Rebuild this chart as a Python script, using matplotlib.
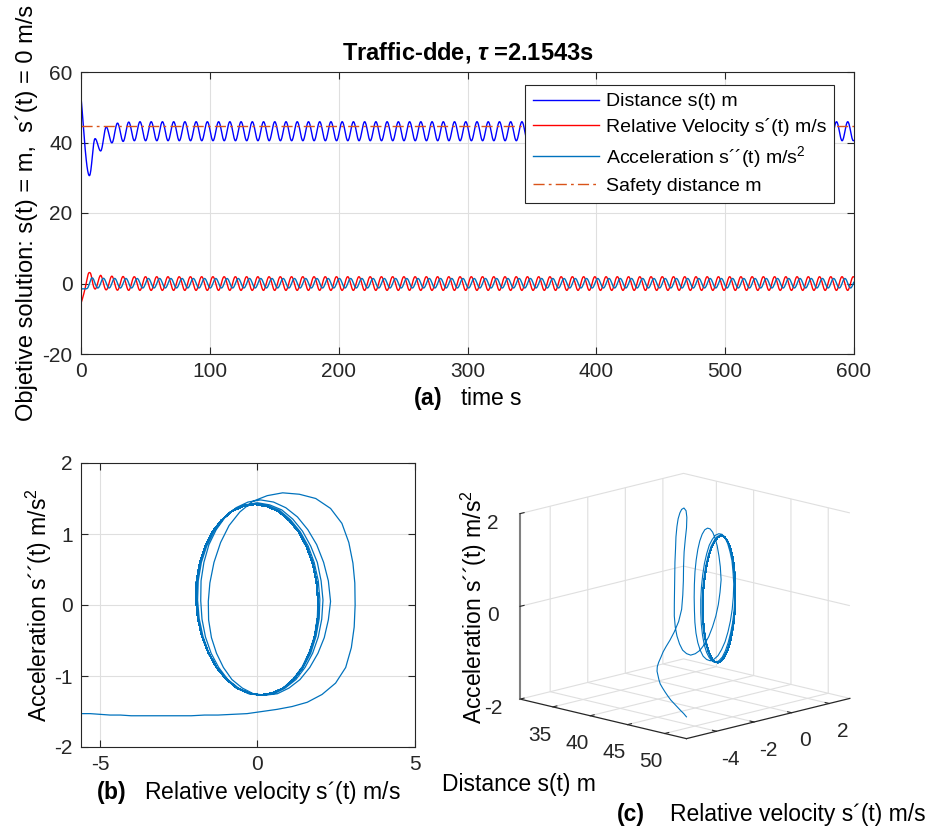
import matplotlib
matplotlib.use("Agg")
import matplotlib.pyplot as plt
import numpy as np

plt.rcParams["font.family"] = ["Liberation Sans", "DejaVu Sans"]
plt.rcParams["mathtext.fontset"] = "custom"
plt.rcParams["mathtext.rm"] = "Liberation Sans"
plt.rcParams["mathtext.it"] = "Liberation Sans:italic"
plt.rcParams["mathtext.bf"] = "Liberation Sans:bold"
plt.rcParams["mathtext.bfit"] = "Liberation Sans:bold:italic"
plt.rcParams["axes.unicode_minus"] = False

# ------------------------------------------------------------
# trajectory, one sample every 1/32 of the period
dt = 0.2725
t_end = 600
n_cycles = 65
safety_dist = 44.7

# start of the run (t = 0 ... 41 s): fall, overshoot and the converging loops
dist_start = [52.9, 51.8, 50.6, 49.4, 48.1, 46.8, 45.5, 44.2, 42.9, 41.6, 40.4, 39.2,
              38.0, 36.9, 35.9, 35.0, 34.1, 33.3, 32.6, 32.0, 31.5, 31.1, 30.8, 30.65, 30.6,
              30.7, 31.0, 31.5, 32.1, 32.9, 33.8, 34.8, 35.9, 36.9, 37.9, 38.8, 39.6, 40.2,
              40.7, 41.0, 41.1,
              41.07, 40.97, 40.80, 40.59, 40.32, 40.02, 39.69, 39.35, 39.01, 38.68, 38.38,
              38.11, 37.90, 37.73, 37.63, 37.60,
              37.67, 37.86, 38.18, 38.60, 39.11, 39.70, 40.34, 41.00, 41.66, 42.30, 42.89,
              43.40, 43.82, 44.14, 44.34, 44.40,
              44.36, 44.23, 44.02, 43.74, 43.40, 43.01, 42.59, 42.15, 41.71, 41.29, 40.90,
              40.56, 40.28, 40.07, 39.94, 39.90,
              39.95, 40.11, 40.37, 40.72, 41.14, 41.63, 42.15, 42.70, 43.25, 43.77, 44.26,
              44.68, 45.03, 45.29, 45.45, 45.50,
              45.45, 45.30, 45.06, 44.74, 44.35, 43.90, 43.41, 42.90, 42.39, 41.90, 41.45,
              41.06, 40.74, 40.50, 40.35, 40.30,
              40.35, 40.51, 40.77, 41.11, 41.52, 42.00, 42.51, 43.05, 43.59, 44.10, 44.58,
              44.99, 45.34, 45.59, 45.75, 45.80,
              45.75, 45.60, 45.35, 45.02, 44.62, 44.17, 43.67, 43.15, 42.63, 42.14, 41.68,
              41.28, 40.95, 40.70, 40.55]
vel_start = [-5.60, -5.31, -5.00, -4.68, -4.35, -4.01, -3.65, -3.28, -2.90, -2.51, -2.10,
             -1.68, -1.25, -0.80, -0.33, 0.15, 0.62, 1.10, 1.58, 2.05, 2.48, 2.80, 2.98,
             3.07, 3.10,
             3.09, 3.03, 2.90, 2.68, 2.32, 1.85, 1.33, 0.80, 0.31, -0.15, -0.56, -0.90,
             -1.17, -1.38, -1.51, -1.56,
             -1.55, -1.46, -1.30, -1.08, -0.81, -0.48, -0.13, 0.25, 0.63, 1.00, 1.35,
             1.66, 1.92, 2.12, 2.25, 2.32,
             2.25, 2.10, 1.88, 1.60, 1.27, 0.90, 0.51, 0.10, -0.30, -0.68, -1.02, -1.31,
             -1.54, -1.70, -1.79, -1.80,
             -1.76, -1.65, -1.47, -1.23, -0.94, -0.60, -0.24, 0.14, 0.52, 0.88, 1.22,
             1.51, 1.75, 1.93, 2.04, 2.08,
             2.02, 1.90, 1.69, 1.43, 1.12, 0.77, 0.39, 0.00, -0.39, -0.76, -1.09, -1.38,
             -1.61, -1.78, -1.88, -1.90,
             -1.85, -1.73, -1.54, -1.29, -0.99, -0.65, -0.28, 0.10, 0.48, 0.84, 1.17,
             1.45, 1.69, 1.86, 1.96, 1.98,
             1.93, 1.80, 1.61, 1.36, 1.05, 0.71, 0.33, -0.05, -0.43, -0.80, -1.13, -1.42,
             -1.65, -1.82, -1.92, -1.94,
             -1.89, -1.76, -1.56, -1.31, -1.01, -0.67, -0.30, 0.08, 0.45, 0.81, 1.14,
             1.42, 1.64, 1.81, 1.90]
acc_start = [-1.53, -1.53, -1.54, -1.55, -1.55, -1.56, -1.56, -1.56, -1.56, -1.56, -1.56,
             -1.55, -1.55, -1.54, -1.53, -1.50, -1.47, -1.43, -1.37, -1.26, -1.10, -0.88,
             -0.60, -0.31, 0.00,
             0.31, 0.59, 0.88, 1.15, 1.36, 1.50, 1.56, 1.58, 1.54, 1.46, 1.31, 1.12, 0.88,
             0.60, 0.31, 0.05,
             -0.21, -0.46, -0.68, -0.88, -1.05, -1.17, -1.25, -1.27, -1.25, -1.17, -1.05,
             -0.88, -0.68, -0.46, -0.21, 0.05,
             0.34, 0.60, 0.85, 1.06, 1.24, 1.37, 1.45, 1.48, 1.45, 1.37, 1.24, 1.06, 0.85,
             0.60, 0.34, 0.06,
             -0.20, -0.45, -0.68, -0.88, -1.05, -1.17, -1.25, -1.27, -1.25, -1.17, -1.05,
             -0.88, -0.68, -0.45, -0.20, 0.07,
             0.34, 0.60, 0.83, 1.04, 1.21, 1.34, 1.41, 1.44, 1.41, 1.34, 1.21, 1.04, 0.83,
             0.60, 0.34, 0.07,
             -0.19, -0.44, -0.68, -0.88, -1.04, -1.17, -1.25, -1.27, -1.25, -1.17, -1.04,
             -0.88, -0.68, -0.44, -0.19, 0.08,
             0.34, 0.60, 0.83, 1.03, 1.20, 1.33, 1.40, 1.43, 1.40, 1.33, 1.20, 1.03, 0.83,
             0.60, 0.34, 0.08,
             -0.18, -0.44, -0.67, -0.87, -1.04, -1.17, -1.24, -1.27, -1.24, -1.17, -1.04,
             -0.87, -0.67, -0.44, -0.18]

# one steady oscillation (the limit cycle), repeated up to 600 s as in panel (a)
dist_cycle = [40.50, 40.55, 40.71, 40.96, 41.29, 41.70, 42.17, 42.67, 43.20, 43.73, 44.23,
              44.70, 45.11, 45.44, 45.69, 45.85, 45.90, 45.85, 45.69, 45.44, 45.11, 44.70,
              44.23, 43.73, 43.20, 42.67, 42.17, 41.70, 41.29, 40.96, 40.71, 40.55]
vel_cycle = [1.92, 1.87, 1.75, 1.56, 1.31, 1.01, 0.67, 0.30, -0.08, -0.46, -0.82, -1.15,
             -1.43, -1.66, -1.83, -1.93, -1.95, -1.89, -1.76, -1.56, -1.30, -1.00, -0.65,
             -0.28, 0.10, 0.48, 0.83, 1.16, 1.43, 1.66, 1.82, 1.91]
acc_cycle = [0.08, 0.34, 0.59, 0.82, 1.03, 1.19, 1.32, 1.39, 1.42, 1.39, 1.32, 1.19, 1.03,
             0.82, 0.59, 0.34, 0.08, -0.19, -0.44, -0.67, -0.88, -1.04, -1.17, -1.24,
             -1.27, -1.24, -1.17, -1.04, -0.88, -0.67, -0.44, -0.19]

s = np.concatenate([dist_start, np.tile(dist_cycle, n_cycles)])
v = np.concatenate([vel_start, np.tile(vel_cycle, n_cycles)])
a = np.concatenate([acc_start, np.tile(acc_cycle, n_cycles)])
t = np.arange(len(s)) * dt
keep = t <= t_end
t, s, v, a = t[keep], s[keep], v[keep], a[keep]

C_DARK = "#262626"
C_GRID = "#dfdfdf"
C_ACC = "#0072bd"
FS = 15
FL = 16.5
W, H = 926, 834


def box(x0, y0, x1, y1):
    return [x0 / W, 1 - y1 / H, (x1 - x0) / W, (y1 - y0) / H]


def style_2d(ax):
    ax.grid(True, color=C_GRID, lw=0.8)
    ax.set_axisbelow(True)
    ax.tick_params(direction="in", top=True, right=True, length=5, width=0.8,
                   labelsize=FS, colors=C_DARK, pad=6)
    for sp in ax.spines.values():
        sp.set_color(C_DARK)
        sp.set_linewidth(0.8)


fig = plt.figure(figsize=(9.26, 8.34), dpi=100)

# ------------------------------------------------------------ (a)
ax1 = fig.add_axes(box(81, 72, 854, 354))
ax1.plot(t, s, color="#0000ff", lw=1.0, label="Distance s(t) m")
ax1.plot(t, v, color="#ff0000", lw=1.0, label="Relative Velocity s\u00b4(t) m/s")
ax1.plot(t, a, color=C_ACC, lw=1.0, label="Acceleration s\u00b4\u00b4(t) m/s$^2$")
ax1.axhline(safety_dist, color="#d95319", lw=1.0, ls=(0, (8, 3, 2, 3)),
            label="Safety distance m")
ax1.set_xlim(0, 600)
ax1.set_ylim(-20, 60)
ax1.set_xticks(np.arange(0, 601, 100))
ax1.set_yticks(np.arange(-20, 61, 20))
style_2d(ax1)
ax1.set_title("Traffic-dde, $\\mathbfit{\\tau}$ =2.1543s", fontsize=17,
              fontweight="bold", color="black", pad=9)
ax1.set_xlabel("$\\mathbf{(a)}$   time s", fontsize=FL, labelpad=3)
ax1.set_ylabel("Objetive solution: s(t) = m,  s\u00b4(t) = 0 m/s", fontsize=17,
               labelpad=3)
leg = ax1.legend(loc="upper right", bbox_to_anchor=(0.974, 0.954), fontsize=14,
                 handlelength=3.4, fancybox=False, framealpha=1, edgecolor=C_DARK,
                 borderaxespad=0, labelspacing=0.4, handletextpad=0.35, borderpad=0.4)
leg.get_frame().set_linewidth(0.8)

# ------------------------------------------------------------ (b)
ax2 = fig.add_axes(box(81, 463, 415, 747))
ax2.plot(v, a, color=C_ACC, lw=0.9)
ax2.set_xlim(v.min(), 5)
ax2.set_ylim(-2, 2)
ax2.set_xticks([-5, 0, 5])
ax2.set_yticks([-2, -1, 0, 1, 2])
style_2d(ax2)
ax2.set_xlabel("$\\mathbf{(b)}$   Relative velocity s\u00b4(t) m/s", fontsize=FL,
               labelpad=3)
ax2.set_ylabel("Acceleration s\u00b4\u00b4(t) m/s$^2$", fontsize=FL, labelpad=0)

# ------------------------------------------------------------ (c)
ax3 = fig.add_axes(box(455, 426, 905, 796), projection="3d")
ax3.set_proj_type("ortho")
ax3.plot(s, v, a, color=C_ACC, lw=0.8)
ax3.set_xlim(s.min(), s.max())
ax3.set_ylim(v.min(), v.max())
ax3.set_zlim(-2, 2)
ax3.set_xticks([35, 40, 45, 50])
ax3.set_yticks([-4, -2, 0, 2])
ax3.set_zticks([-2, 0, 2])
ax3.view_init(elev=14, azim=-45.5)
ax3.set_box_aspect((1, 1, 0.82))
for axis in (ax3.xaxis, ax3.yaxis, ax3.zaxis):
    axis.set_pane_color((1, 1, 1, 0))
    axis.pane.set_edgecolor((1, 1, 1, 0))
    axis.line.set_color(C_DARK)
    axis.line.set_linewidth(0.9)
    axis._axinfo["grid"]["color"] = C_GRID
    axis._axinfo["grid"]["linewidth"] = 0.8
    axis._axinfo["tick"]["inward_factor"] = 0.0
    axis._axinfo["tick"]["outward_factor"] = 0.3
ax3.zaxis.set_ticks_position("lower")
ax3.zaxis.line.set_color("#808080")
ax3.zaxis.line.set_linewidth(1.5)
ax3.tick_params(labelsize=FS, colors=C_DARK)
fig.text(519 / W, 1 - 784 / H, "Distance s(t) m", fontsize=FL, ha="center", va="center")
fig.text(474 / W, 1 - 607 / H, "Acceleration s\u00b4\u00b4(t) m/s$^2$", fontsize=FL,
         rotation=90, ha="center", va="center")
fig.text(631 / W, 1 - 815 / H, "(c)", fontsize=FL, fontweight="bold",
         ha="center", va="center")
fig.text(670 / W, 1 - 815 / H, "Relative velocity s\u00b4(t) m/s", fontsize=FL,
         ha="left", va="center")

fig.savefig("out.png", dpi=100)
